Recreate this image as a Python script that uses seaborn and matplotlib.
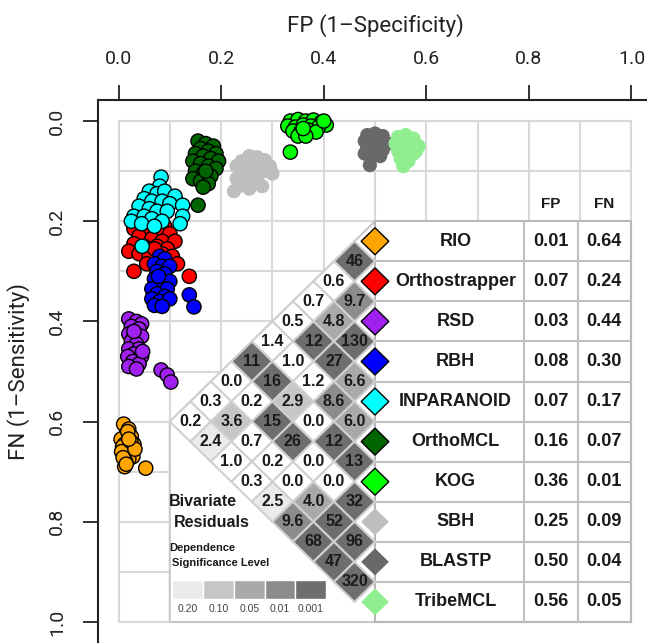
import numpy as np
import pandas as pd
import seaborn as sns
import matplotlib.pyplot as plt
from matplotlib.patches import Polygon, Rectangle

methods = ["RIO", "Orthostrapper", "RSD", "RBH", "INPARANOID",
           "OrthoMCL", "KOG", "SBH", "BLASTP", "TribeMCL"]
colors = ["#FFA500", "#FF0000", "#A020F0", "#0000FF", "#00FFFF",
          "#006400", "#00FF00", "#BEBEBE", "#696969", "#90EE90"]
outlined = [True, True, True, True, True, True, True, False, False, False]
fp_mean = [0.01, 0.07, 0.03, 0.08, 0.07, 0.16, 0.36, 0.25, 0.50, 0.56]
fn_mean = [0.64, 0.24, 0.44, 0.30, 0.17, 0.07, 0.01, 0.09, 0.04, 0.05]

# replicate estimates (FP, FN)
rio_fp = [0.010, 0.020, 0.015, 0.025, 0.005, 0.018, 0.012, 0.030, 0.008, 0.022, 0.016, 0.010,
          0.028, 0.020, 0.014, 0.006, 0.024, 0.018, 0.012, 0.032, 0.020, 0.009, 0.015, 0.053]
rio_fn = [0.605, 0.615, 0.625, 0.630, 0.635, 0.640, 0.645, 0.645, 0.650, 0.652, 0.660, 0.665,
          0.670, 0.675, 0.680, 0.660, 0.640, 0.620, 0.690, 0.655, 0.635, 0.672, 0.685, 0.693]
ortho_fp = [0.030, 0.050, 0.070, 0.090, 0.060, 0.080, 0.100, 0.040, 0.065, 0.085, 0.110, 0.030, 0.050, 0.075,
            0.095, 0.020, 0.040, 0.060, 0.085, 0.105, 0.115, 0.055, 0.075, 0.030, 0.138, 0.070, 0.090]
ortho_fn = [0.215, 0.210, 0.205, 0.210, 0.225, 0.220, 0.225, 0.230, 0.235, 0.240, 0.240, 0.245, 0.250, 0.250,
            0.255, 0.260, 0.265, 0.270, 0.265, 0.270, 0.285, 0.285, 0.290, 0.300, 0.310, 0.255, 0.280]
rsd_fp = [0.020, 0.035, 0.045, 0.025, 0.040, 0.020, 0.030, 0.045, 0.025, 0.035, 0.020, 0.040,
          0.030, 0.045, 0.018, 0.028, 0.040, 0.020, 0.035, 0.047, 0.030, 0.083, 0.095, 0.102]
rsd_fn = [0.395, 0.400, 0.405, 0.410, 0.415, 0.425, 0.430, 0.430, 0.440, 0.445, 0.455, 0.455,
          0.465, 0.470, 0.470, 0.480, 0.485, 0.490, 0.495, 0.460, 0.420, 0.497, 0.507, 0.521]
rbh_fp = [0.080, 0.090, 0.070, 0.085, 0.100, 0.075, 0.090, 0.070, 0.085, 0.100, 0.080, 0.065,
          0.095, 0.075, 0.090, 0.065, 0.080, 0.100, 0.070, 0.085, 0.078, 0.138, 0.147]
rbh_fn = [0.270, 0.275, 0.285, 0.290, 0.290, 0.300, 0.305, 0.315, 0.320, 0.320, 0.330, 0.335,
          0.335, 0.345, 0.350, 0.355, 0.360, 0.355, 0.368, 0.370, 0.310, 0.347, 0.371]
inp_fp = [0.083, 0.080, 0.060, 0.075, 0.090, 0.110, 0.050, 0.065, 0.085, 0.100, 0.125, 0.040, 0.060,
          0.075, 0.095, 0.125, 0.030, 0.050, 0.065, 0.085, 0.120, 0.025, 0.045, 0.070, 0.046]
inp_fn = [0.112, 0.130, 0.140, 0.145, 0.140, 0.150, 0.155, 0.160, 0.160, 0.165, 0.168, 0.170, 0.175,
          0.180, 0.180, 0.190, 0.190, 0.190, 0.195, 0.200, 0.205, 0.200, 0.205, 0.210, 0.250]
omcl_fp = [0.155, 0.170, 0.185, 0.160, 0.175, 0.190, 0.150, 0.165, 0.180, 0.195, 0.145, 0.160,
           0.175, 0.190, 0.150, 0.165, 0.180, 0.145, 0.160, 0.175, 0.165, 0.155, 0.170]
omcl_fn = [0.040, 0.045, 0.050, 0.055, 0.060, 0.065, 0.065, 0.070, 0.075, 0.080, 0.080, 0.085,
           0.090, 0.095, 0.100, 0.105, 0.110, 0.115, 0.120, 0.125, 0.132, 0.168, 0.100]
kog_fp = [0.335, 0.350, 0.365, 0.380, 0.395, 0.405, 0.330, 0.345, 0.360, 0.375,
          0.390, 0.340, 0.355, 0.370, 0.385, 0.350, 0.365, 0.360, 0.335, 0.400]
kog_fn = [0.000, -0.003, 0.000, -0.002, 0.003, 0.008, 0.010, 0.012, 0.008, 0.010,
          0.012, 0.020, 0.022, 0.018, 0.022, 0.030, 0.030, 0.015, 0.062, 0.000]
sbh_fp = [0.255, 0.270, 0.285, 0.240, 0.260, 0.295, 0.230, 0.250, 0.270, 0.285, 0.240,
          0.260, 0.300, 0.230, 0.250, 0.270, 0.235, 0.255, 0.225, 0.280, 0.245]
sbh_fn = [0.070, 0.072, 0.078, 0.080, 0.085, 0.090, 0.090, 0.095, 0.095, 0.100, 0.105,
          0.110, 0.105, 0.115, 0.120, 0.120, 0.130, 0.135, 0.140, 0.130, 0.100]
blastp_fp = [0.485, 0.500, 0.515, 0.480, 0.495, 0.510, 0.525, 0.485,
             0.500, 0.515, 0.480, 0.495, 0.510, 0.500, 0.490]
blastp_fn = [0.028, 0.025, 0.030, 0.040, 0.040, 0.042, 0.045, 0.052,
             0.055, 0.058, 0.065, 0.068, 0.070, 0.045, 0.088]
tribe_fp = [0.545, 0.560, 0.575, 0.540, 0.555, 0.570, 0.585, 0.545, 0.560, 0.575, 0.550, 0.565, 0.555, 0.580]
tribe_fn = [0.032, 0.028, 0.035, 0.045, 0.045, 0.048, 0.050, 0.060, 0.062, 0.065, 0.075, 0.080, 0.090, 0.060]

all_fp = [rio_fp, ortho_fp, rsd_fp, rbh_fp, inp_fp, omcl_fp, kog_fp, sbh_fp, blastp_fp, tribe_fp]
all_fn = [rio_fn, ortho_fn, rsd_fn, rbh_fn, inp_fn, omcl_fn, kog_fn, sbh_fn, blastp_fn, tribe_fn]

# bivariate residuals, row i = pairs (i, i+1), (i, i+2), ...
resid = [
    [46, 0.6, 0.7, 0.5, 1.4, 11, 0.0, 0.3, 0.2],
    [9.7, 4.8, 12, 1.0, 16, 0.2, 3.6, 2.4],
    [130, 27, 1.2, 2.9, 15, 0.7, 1.0],
    [6.6, 8.6, 0.0, 26, 0.2, 0.3],
    [6.0, 12, 0.0, 0.0, 2.5],
    [13, 0.0, 4.0, 9.6],
    [32, 52, 68],
    [96, 47],
    [320],
]
sig_levels = ["0.20", "0.10", "0.05", "0.01", "0.001"]
sig_cut = [1.64, 2.71, 3.84, 6.63, 10.83]
sig_colors = ["#ebebeb", "#c6c6c6", "#a9a9a9", "#8c8c8c", "#6e6e6e"]

rows = []
for m, fps, fns in zip(methods, all_fp, all_fn):
    for a, b in zip(fps, fns):
        rows.append({"method": m, "FP": a, "FN": b})
df = pd.DataFrame(rows)

sns.set_style("white")
plt.rcParams["font.family"] = ["Roboto", "DejaVu Sans"]

fig = plt.figure(figsize=(6.47, 6.44), dpi=100)
ax = fig.add_axes([98 / 647, 1 - 642 / 644, 554 / 647, 542 / 644])

# grid over [0,1] x [0,1]
for g in np.arange(0, 1.001, 0.1):
    ax.plot([g, g], [0, 1], color="#d9d9d9", lw=1.5, zorder=0)
    ax.plot([0, 1], [g, g], color="#d9d9d9", lw=1.5, zorder=0)

pal = dict(zip(methods, colors))
edged = [m for m, o in zip(methods, outlined) if o]
plain = [m for m, o in zip(methods, outlined) if not o]
sns.scatterplot(data=df[df.method.isin(edged)], x="FP", y="FN", hue="method", palette=pal,
                s=105, edgecolor="black", linewidth=1.0, legend=False, ax=ax, zorder=2)
sns.scatterplot(data=df[df.method.isin(plain)], x="FP", y="FN", hue="method", palette=pal,
                s=105, linewidth=0, legend=False, ax=ax, zorder=2)

# residual triangle + table overlay
half = 0.04
tri_x = 0.5
row_top = 0.2
row_h = 2 * half
lab_font = "Liberation Sans"

ax.add_patch(Polygon([(tri_x, row_top), (0.1, 0.6), (0.1, 1.0), (tri_x, 1.0)],
                     closed=True, fc="white", ec="#c8c8c8", lw=1.5, zorder=3))
ax.add_patch(Rectangle((tri_x, row_top), 0.5, 10 * row_h, fc="white", ec="#b8b8b8", lw=1.5, zorder=3))
for k in range(1, 10):
    yk = row_top + k * row_h
    ax.plot([tri_x, 1.0], [yk, yk], color="#c0c0c0", lw=1.5, zorder=4)
for xv in [0.79, 0.895]:
    ax.plot([xv, xv], [row_top, 1.0], color="#c0c0c0", lw=1.5, zorder=4)

for i, vals in enumerate(resid):
    for k, v in enumerate(vals):
        j = i + 1 + k
        cx = tri_x - half * (j - i)
        cy = row_top + half + half * (i + j)
        lvl = int(np.searchsorted(sig_cut, v, side="right"))
        fc = "white" if lvl == 0 else sig_colors[lvl - 1]
        ax.add_patch(Polygon([(cx - half, cy), (cx, cy - half), (cx + half, cy), (cx, cy + half)],
                             closed=True, fc=fc, ec="#d0d0d0", lw=1.5, zorder=5))
        txt = f"{v:.1f}" if v < 10 else f"{v:.0f}"
        ax.text(cx, cy, txt, ha="center", va="center", fontsize=11.5, fontweight="bold",
                family=lab_font, color="#1a1a1a", zorder=6)

dh = 0.027
for i, m in enumerate(methods):
    cy = row_top + half + i * row_h
    ax.add_patch(Polygon([(tri_x - dh, cy), (tri_x, cy - dh), (tri_x + dh, cy), (tri_x, cy + dh)],
                         closed=True, fc=colors[i], ec="black" if outlined[i] else "none",
                         lw=1.0, zorder=6))
    ax.text(0.657, cy, m, ha="center", va="center", fontsize=13, fontweight="bold",
            family=lab_font, color="#1a1a1a", zorder=6)
    ax.text(0.843, cy, f"{fp_mean[i]:.2f}", ha="center", va="center", fontsize=13,
            fontweight="bold", family=lab_font, color="#1a1a1a", zorder=6)
    ax.text(0.947, cy, f"{fn_mean[i]:.2f}", ha="center", va="center", fontsize=13,
            fontweight="bold", family=lab_font, color="#1a1a1a", zorder=6)
ax.text(0.843, 0.166, "FP", ha="center", va="center", fontsize=11, fontweight="bold",
        family=lab_font, color="#1a1a1a", zorder=6)
ax.text(0.947, 0.166, "FN", ha="center", va="center", fontsize=11, fontweight="bold",
        family=lab_font, color="#1a1a1a", zorder=6)

# significance legend
ax.text(0.099, 0.760, "Bivariate", ha="left", va="center", fontsize=11.5, fontweight="bold",
        family=lab_font, color="#1a1a1a", zorder=6)
ax.text(0.108, 0.802, "Residuals", ha="left", va="center", fontsize=11.5, fontweight="bold",
        family=lab_font, color="#1a1a1a", zorder=6)
ax.text(0.099, 0.853, "Dependence", ha="left", va="center", fontsize=8, fontweight="bold",
        family=lab_font, color="#1a1a1a", zorder=6)
ax.text(0.105, 0.883, "Significance Level", ha="left", va="center", fontsize=8, fontweight="bold",
        family=lab_font, color="#1a1a1a", zorder=6)
bw = 0.06
for k, (lab, c) in enumerate(zip(sig_levels, sig_colors)):
    x0 = 0.105 + k * bw
    ax.add_patch(Rectangle((x0, 0.917), bw, 0.037, fc=c, ec="white", lw=1, zorder=5))
    ax.text(x0 + bw / 2, 0.975, lab, ha="center", va="center", fontsize=7.5,
            family=lab_font, color="#444444", zorder=6)

ax.set_xlim(-0.04, 1.04)
ax.set_ylim(1.04, -0.042)
ax.set_xticks([0, 0.2, 0.4, 0.6, 0.8, 1.0])
ax.set_yticks([0, 0.2, 0.4, 0.6, 0.8, 1.0])
ax.set_xticklabels(["0.0", "0.2", "0.4", "0.6", "0.8", "1.0"])
ax.set_yticklabels(["0.0", "0.2", "0.4", "0.6", "0.8", "1.0"])
ax.xaxis.tick_top()
ax.xaxis.set_label_position("top")
ax.tick_params(axis="x", top=True, bottom=False, length=11, width=1.3, pad=12,
               labelsize=14, colors="#222222", direction="out")
ax.tick_params(axis="y", left=True, length=11, width=1.3, pad=12,
               labelsize=14, colors="#222222", direction="out")
plt.setp(ax.get_yticklabels(), rotation=90, va="center")
ax.set_xlabel("FP (1–Specificity)", fontsize=16, labelpad=13, color="#222222")
ax.set_ylabel("FN (1–Sensitivity)", fontsize=16, labelpad=13, color="#222222")
for s in ["right", "bottom"]:
    ax.spines[s].set_visible(False)
for s in ["top", "left"]:
    ax.spines[s].set_linewidth(1.5)
    ax.spines[s].set_color("#222222")

fig.savefig("out.png", dpi=100)
